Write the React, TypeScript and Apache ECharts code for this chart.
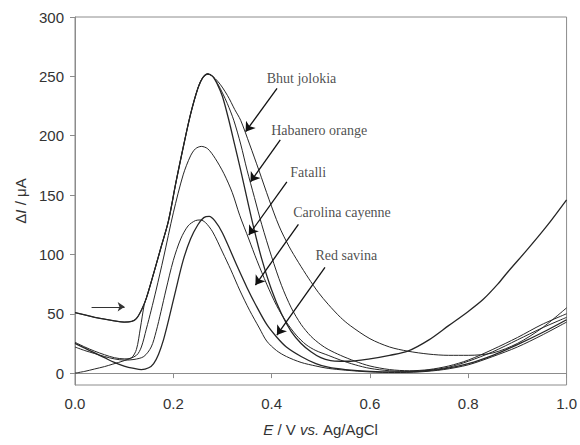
import React, { useEffect, useRef } from "react";
import * as echarts from "echarts";

// Differential pulse voltammograms: [E (V), ΔI (µA)]
const curveA: number[][] = [
  [0, 51], [0.02, 49], [0.04, 47], [0.06, 45.5], [0.08, 44], [0.1, 43], [0.115, 43.5], [0.125, 46], [0.135, 53],
  [0.145, 63], [0.16, 84], [0.175, 106], [0.19, 128], [0.205, 160], [0.22, 190], [0.235, 218], [0.25, 240],
  [0.26, 249], [0.27, 252], [0.28, 250], [0.29, 243], [0.3, 233], [0.313, 213], [0.325, 192], [0.337, 171],
  [0.35, 147], [0.365, 120], [0.38, 96], [0.4, 70], [0.42, 50], [0.44, 35], [0.46, 25], [0.48, 18], [0.5, 13],
  [0.52, 10.5], [0.54, 10], [0.56, 10], [0.6, 12], [0.64, 15], [0.677, 18.5], [0.72, 28], [0.76, 40], [0.8, 52],
  [0.83, 62], [0.86, 75], [0.88, 85], [0.92, 104], [0.96, 124], [1.0, 146],
];
const curveBhut: number[][] = [
  [0, 51], [0.02, 49], [0.04, 47], [0.06, 45.5], [0.08, 44], [0.1, 43], [0.115, 43.5], [0.125, 46], [0.135, 53],
  [0.145, 63], [0.16, 84], [0.175, 106], [0.19, 128], [0.205, 160], [0.22, 190], [0.235, 218], [0.25, 240],
  [0.26, 249], [0.27, 252], [0.29, 246], [0.31, 234], [0.325, 222], [0.337, 213], [0.355, 193], [0.374, 171],
  [0.395, 146], [0.415, 124], [0.435, 107], [0.455, 93], [0.475, 80], [0.495, 68], [0.515, 58], [0.54, 47],
  [0.56, 40], [0.6, 29], [0.64, 22], [0.677, 18.5], [0.72, 16], [0.76, 15], [0.8, 15], [0.85, 17], [0.9, 25],
  [0.95, 38], [1.0, 55],
];
const curveHabanero: number[][] = [
  [0, 26], [0.02, 22], [0.04, 18.5], [0.06, 15.5], [0.08, 13], [0.1, 12], [0.115, 13], [0.125, 20], [0.133, 38],
  [0.141, 58], [0.145, 63], [0.16, 84], [0.175, 106], [0.19, 128], [0.205, 160], [0.22, 190], [0.235, 218],
  [0.25, 240], [0.26, 249], [0.27, 252], [0.28, 250], [0.29, 244], [0.3, 236], [0.31, 227], [0.323, 213],
  [0.337, 193], [0.35, 171], [0.365, 148], [0.38, 125], [0.4, 98], [0.42, 74], [0.44, 55], [0.46, 41], [0.48, 31],
  [0.5, 24], [0.515, 20], [0.54, 15], [0.57, 10], [0.6, 6], [0.64, 3], [0.68, 2], [0.72, 3], [0.76, 6], [0.8, 11],
  [0.85, 20], [0.9, 30], [0.95, 41], [1.0, 50],
];
const curveFatalli: number[][] = [
  [0, 0], [0.02, 1.5], [0.04, 3.5], [0.06, 5.5], [0.077, 7.6], [0.1, 10.5], [0.125, 15], [0.135, 22], [0.145, 37],
  [0.155, 53], [0.165, 70], [0.18, 97], [0.2, 135], [0.22, 167], [0.235, 183], [0.245, 189], [0.257, 191],
  [0.27, 189], [0.285, 181], [0.303, 168], [0.32, 152], [0.335, 133], [0.3535, 113], [0.37, 95], [0.39, 75],
  [0.41, 57], [0.43, 43], [0.45, 32], [0.47, 24], [0.49, 19], [0.515, 15], [0.54, 11], [0.57, 7], [0.6, 4],
  [0.64, 2], [0.68, 1.5], [0.72, 2.5], [0.76, 5], [0.8, 10], [0.85, 18], [0.9, 28], [0.95, 38], [1.0, 47],
];
const curveCarolina: number[][] = [
  [0, 22], [0.02, 19], [0.04, 16.5], [0.06, 14], [0.08, 12], [0.1, 11], [0.12, 11.5], [0.14, 14], [0.155, 22],
  [0.165, 35], [0.175, 52], [0.185, 70], [0.2, 95], [0.215, 113], [0.23, 124], [0.245, 128.5], [0.255, 129],
  [0.265, 127], [0.28, 119], [0.3, 102], [0.317, 87], [0.335, 70], [0.355, 53], [0.375, 38], [0.39, 27],
  [0.41, 19], [0.43, 14], [0.46, 9], [0.49, 6], [0.515, 4], [0.55, 2.5], [0.6, 1], [0.65, 0.5], [0.7, 1],
  [0.75, 3], [0.8, 7], [0.85, 14], [0.9, 22], [0.95, 32], [1.0, 43],
];
const curveRedSavina: number[][] = [
  [0, 25], [0.02, 21], [0.04, 17], [0.06, 13], [0.08, 9], [0.1, 6], [0.12, 4], [0.135, 3], [0.15, 4.5],
  [0.16, 8], [0.17, 16], [0.18, 28], [0.19, 44], [0.205, 70], [0.22, 95], [0.235, 113], [0.25, 125], [0.262, 131],
  [0.273, 132], [0.285, 128], [0.3, 118], [0.33, 90], [0.35, 72], [0.367, 58], [0.39, 41], [0.411, 30],
  [0.43, 22], [0.46, 14], [0.49, 8], [0.515, 5], [0.55, 3], [0.6, 1.5], [0.65, 1], [0.7, 1.5], [0.75, 3.5],
  [0.8, 8], [0.85, 15], [0.9, 24], [0.95, 34], [1.0, 45],
];

const sampleNames = ["Bhut jolokia", "Habanero orange", "Fatalli", "Carolina cayenne", "Red savina"];
// label anchor (left edge, middle) in data units
const labelPos: number[][] = [[0.39, 247.8], [0.399, 204], [0.438, 168.8], [0.444, 134.9], [0.489, 98.7]];
// arrows: tail -> tip
const arrowTails: number[][] = [[0.411, 239.9], [0.4176, 196.4], [0.431, 161.2], [0.4545, 125.4], [0.5085, 89.1]];
const arrowTips: number[][] = [[0.347, 203.4], [0.357, 161.2], [0.3535, 116.3], [0.367, 74.2], [0.4107, 32.1]];
const scanArrow: number[][] = [[0.0337, 55.9], [0.101, 55.9]];

const xTicks = [0, 0.2, 0.4, 0.6, 0.8, 1.0];
const yTicks = [0, 50, 100, 150, 200, 250, 300];

export default function App() {
  const ref = useRef<HTMLDivElement>(null);
  useEffect(() => {
    if (!ref.current) return;
    const chart = echarts.init(ref.current, null, { renderer: "svg" });
    const axisColor = "#8c8c8c";
    const curveColor = "#262626";
    const curves = [curveA, curveBhut, curveHabanero, curveFatalli, curveCarolina, curveRedSavina];
    const lineSeries = curves.map((d, i) => ({
      type: "line",
      data: d,
      smooth: 0.3,
      showSymbol: false,
      symbol: "none",
      lineStyle: { color: curveColor, width: i === 0 || i === 5 ? 1.3 : 1 },
      z: 2,
    }));
    chart.setOption({
      animation: false,
      backgroundColor: "#ffffff",
      grid: {
        left: 75, right: 10, top: 17, bottom: 60,
        show: true, borderColor: axisColor, borderWidth: 1, backgroundColor: "transparent",
      },
      xAxis: {
        type: "value", min: 0, max: 1, interval: 0.2,
        axisLine: { show: true, lineStyle: { color: axisColor } },
        axisTick: { show: true, inside: false, length: 5, lineStyle: { color: axisColor } },
        splitLine: { show: false },
        axisLabel: {
          margin: 11, color: "#333", fontFamily: "Liberation Sans, Arial", fontSize: 15,
          formatter: (v: number) => v.toFixed(1),
          customValues: xTicks,
        },
        name: "{i|E}{n| / V }{i|vs.}{n| Ag/AgCl}",
        nameLocation: "middle", nameGap: 37,
        nameTextStyle: {
          rich: {
            i: { fontStyle: "italic", fontFamily: "Liberation Sans, Arial", fontSize: 15, color: "#333" },
            n: { fontFamily: "Liberation Sans, Arial", fontSize: 15, color: "#333" },
          },
        },
      },
      yAxis: {
        type: "value", min: -10, max: 300,
        axisLine: { show: true, lineStyle: { color: axisColor } },
        axisTick: { show: true, inside: false, length: 5, lineStyle: { color: axisColor }, customValues: yTicks },
        splitLine: { show: false },
        axisLabel: {
          margin: 11, color: "#333", fontFamily: "Liberation Sans, Arial", fontSize: 15,
          customValues: yTicks,
        },
        name: "{n|Δ}{i|I}{n| / μA}",
        nameLocation: "middle", nameGap: 38, nameRotate: 90,
        nameTextStyle: {
          rich: {
            i: { fontStyle: "italic", fontFamily: "Liberation Sans, Arial", fontSize: 15, color: "#333" },
            n: { fontFamily: "Liberation Sans, Arial", fontSize: 15, color: "#333" },
          },
        },
      },
      series: [
        ...lineSeries,
        {
          type: "lines",
          coordinateSystem: "cartesian2d",
          symbol: ["none", "arrow"],
          symbolSize: 9,
          lineStyle: { color: "#111", width: 1.3, opacity: 1 },
          data: arrowTails.map((t, i) => ({ coords: [t, arrowTips[i]] })),
          z: 3,
        },
        {
          type: "lines",
          coordinateSystem: "cartesian2d",
          symbol: ["none", "arrow"],
          symbolSize: 7,
          lineStyle: { color: "#333", width: 1, opacity: 1 },
          data: [{ coords: [scanArrow[0], scanArrow[1]] }],
          z: 3,
        },
        {
          type: "scatter",
          symbolSize: 0,
          data: labelPos.map((p, i) => ({ value: p, name: sampleNames[i] })),
          label: {
            show: true,
            position: [0, 0],
            align: "left",
            verticalAlign: "middle",
            formatter: (p: any) => p.name,
            fontFamily: "Liberation Serif, Times New Roman, serif",
            fontSize: 14,
            color: "#222",
          },
          z: 4,
        },
      ],
    });
    return () => chart.dispose();
  }, []);
  return (
    <div
      ref={ref}
      style={{ position: "fixed", left: 0, top: 0, width: 580, height: 445, background: "#fff" }}
    />
  );
}
